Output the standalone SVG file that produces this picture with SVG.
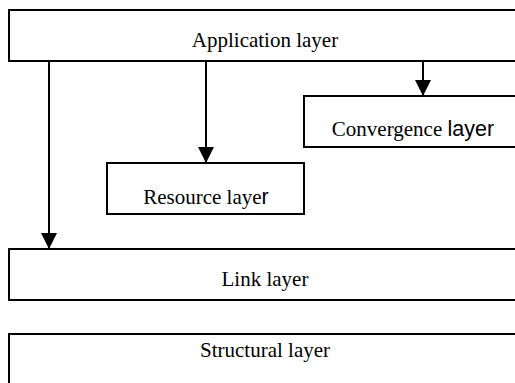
<svg xmlns="http://www.w3.org/2000/svg" width="515" height="383" viewBox="0 0 515 383">
<defs>
<style>
.box{fill:#fff;stroke:#000;stroke-width:2}
.lbl{font-family:"Liberation Serif","Times New Roman",serif;font-size:21px;fill:#000;text-anchor:middle}
.sans{font-family:"Liberation Sans",Arial,sans-serif;font-size:21.5px}
.conn{stroke:#000;stroke-width:2;fill:none}
</style>
<marker id="arr" viewBox="0 0 16 16" refX="16" refY="8" markerWidth="16" markerHeight="16" markerUnits="userSpaceOnUse" orient="auto">
<path d="M0,0 L16,8 L0,16 Z" fill="#000"/>
</marker>
</defs>
<rect width="515" height="383" fill="#fff"/>
<g id="connectors">
<line class="conn" x1="49" y1="61" x2="49" y2="249" marker-end="url(#arr)"/>
<line class="conn" x1="206" y1="61" x2="206" y2="163" marker-end="url(#arr)"/>
<line class="conn" x1="423" y1="61" x2="423" y2="96" marker-end="url(#arr)"/>
</g>
<g id="application">
<rect class="box" x="9" y="10" width="520" height="51"/>
<text class="lbl" x="265" y="47">Application layer</text>
</g>
<g id="convergence">
<rect class="box" x="304" y="96" width="220" height="51"/>
<text class="lbl" x="413" y="136">Convergence <tspan class="sans">layer</tspan></text>
</g>
<g id="resource">
<rect class="box" x="107" y="163" width="197" height="51"/>
<text class="lbl" x="206" y="204">Resource laye<tspan class="sans">r</tspan></text>
</g>
<g id="link">
<rect class="box" x="9" y="249" width="520" height="51"/>
<text class="lbl" x="265" y="286">Link layer</text>
</g>
<g id="structural">
<rect class="box" x="9" y="334" width="520" height="60"/>
<text class="lbl" x="265" y="357">Structural layer</text>
</g>
</svg>
